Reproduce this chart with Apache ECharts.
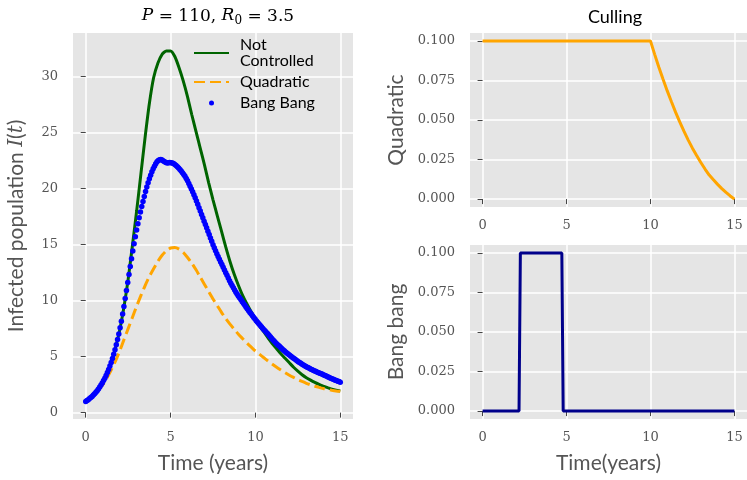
<!DOCTYPE html>
<html><head><meta charset="utf-8">
<script src="https://cdn.jsdelivr.net/npm/echarts@6/dist/echarts.min.js"></script>
<style>html,body{margin:0;padding:0;background:#fff}#c{width:747px;height:480px}</style>
</head><body><div id="c"></div>
<script>
// ---- data ----
const lineT = [0,0.25,0.5,0.75,1,1.25,1.5,1.75,2,2.25,2.5,2.75,3,3.25,3.5,3.75,4,4.25,4.5,4.75,
  5,5.25,5.5,5.75,6,6.25,6.5,6.75,7,7.25,7.5,7.75,8,8.25,8.5,8.75,9,9.25,9.5,9.75,
  10,10.25,10.5,10.75,11,11.25,11.5,11.75,12,12.25,12.5,12.75,13,13.25,13.5,13.75,14,14.25,14.5,14.75,15];
const notControlled = [1.0,1.28,1.65,2.12,2.72,3.49,4.48,5.75,7.35,9.4,
  11.9,14.9,18.0,21.3,24.6,27.6,29.9,31.2,32.0,32.3,
  32.3,31.8,30.8,29.6,28.2,26.6,25.1,23.6,22.1,20.5,
  19.0,17.6,16.2,14.8,13.5,12.35,11.35,10.45,9.7,9.0,
  8.35,7.75,7.2,6.65,6.15,5.7,5.25,4.85,4.45,4.05,
  3.7,3.38,3.12,2.9,2.7,2.52,2.37,2.23,2.1,2.0,
  1.93];
const quadratic = [1.0,1.25,1.58,2.0,2.5,3.1,3.8,4.6,5.5,6.5,
  7.5,8.5,9.5,10.45,11.35,12.15,12.85,13.5,14.05,14.45,
  14.7,14.75,14.6,14.3,13.85,13.35,12.75,12.1,11.45,10.8,
  10.15,9.55,8.95,8.4,7.9,7.45,7.0,6.6,6.2,5.85,
  5.5,5.2,4.9,4.6,4.32,4.05,3.8,3.56,3.34,3.14,
  2.95,2.78,2.62,2.48,2.36,2.25,2.15,2.07,2.0,1.94,
  1.9];
const bangStep = 0.075;   // sampling step of the Bang Bang points (years)
const bangBang = [1.00,1.08,1.16,1.25,1.35,1.45,1.57,1.69,1.82,1.96,
  2.12,2.28,2.46,2.65,2.86,3.08,3.32,3.58,3.86,4.16,
  4.48,4.83,5.21,5.61,6.05,6.52,7.03,7.58,8.17,8.80,
  9.48,10.19,10.9,11.61,12.33,13.04,13.75,14.43,15.08,15.70,
  16.3,16.86,17.40,17.91,18.4,18.85,19.3,19.74,20.15,20.53,
  20.88,21.2,21.5,21.77,22.0,22.22,22.4,22.52,22.58,22.6,
  22.55,22.48,22.4,22.33,22.3,22.32,22.33,22.32,22.3,22.24,
  22.16,22.07,21.95,21.84,21.71,21.57,21.43,21.27,21.10,20.91,
  20.70,20.46,20.22,19.98,19.73,19.46,19.19,18.90,18.60,18.30,
  18.00,17.70,17.40,17.10,16.80,16.50,16.20,15.90,15.60,15.30,
  15.00,14.72,14.45,14.18,13.94,13.70,13.46,13.22,12.98,12.74,
  12.50,12.26,12.02,11.78,11.56,11.35,11.14,10.94,10.75,10.57,
  10.40,10.23,10.07,9.91,9.74,9.58,9.41,9.25,9.10,8.95,
  8.80,8.65,8.50,8.35,8.21,8.08,7.94,7.81,7.67,7.54,
  7.40,7.28,7.16,7.04,6.91,6.78,6.64,6.51,6.39,6.27,
  6.15,6.04,5.94,5.83,5.73,5.62,5.52,5.42,5.33,5.24,
  5.15,5.06,4.97,4.88,4.80,4.71,4.63,4.55,4.48,4.41,
  4.33,4.25,4.19,4.12,4.06,4.00,3.94,3.88,3.83,3.77,
  3.72,3.67,3.61,3.56,3.52,3.47,3.42,3.36,3.31,3.26,
  3.20,3.15,3.10,3.05,3.00,2.95,2.90,2.86,2.81,2.77,
  2.72];
const quadCtrlT = [0,10,10.25,10.5,10.75,11,11.25,11.5,11.75,12,12.25,12.5,12.75,13,13.25,13.5,13.75,14,14.25,14.5,14.75,15];
const quadCtrlU = [0.1,0.1,0.0915,0.0834,0.0757,0.0684,0.0615,0.0548,0.0486,0.0428,0.0373,0.0322,0.0275,0.0231,0.019,0.0152,0.0122,0.0093,0.0066,0.0042,0.002,0];
const bangCtrlT = [0,2.17,2.25,4.72,4.8,15];
const bangCtrlU = [0,0,0.1,0.1,0,0];
const xTicks = [0,5,10,15];
const yTicksLeft = [0,5,10,15,20,25,30];
const yTicksRight = [0,0.025,0.05,0.075,0.1];

// ---- chart ----
const SERIF = 'DejaVu Serif';
const SANS = 'Lato';
const BG = '#E5E5E5';
const zip = (xs, ys) => ys.map((y, i) => [xs[i], y]);
const bangT = bangBang.map((_, i) => +(i * bangStep).toFixed(3));

function xAx(gi, name) {
  return {
    type: 'value', gridIndex: gi, min: -0.75, max: 15.75, offset: 2,
    axisLine: {show: false},
    axisTick: {show: true, length: 5, lineStyle: {color: '#444', width: 1}, customValues: xTicks},
    axisLabel: {customValues: xTicks, margin: 10, fontFamily: SERIF, fontSize: 13, color: '#555',
      formatter: v => String(v)},
    splitLine: {show: true, lineStyle: {color: '#fff', width: 1.5}},
    name: name || '', nameLocation: 'middle', nameGap: 32,
    nameTextStyle: {fontFamily: SANS, fontSize: 21, color: '#555'}
  };
}
function yAx(gi, min, max, ticks, fmt, name, gap, rich) {
  return {
    type: 'value', gridIndex: gi, min, max, offset: 2,
    axisLine: {show: false},
    axisTick: {show: true, length: 5, lineStyle: {color: '#444', width: 1}, customValues: ticks},
    axisLabel: {customValues: ticks, margin: 13, fontFamily: SERIF, fontSize: 13, color: '#555', formatter: fmt},
    splitLine: {show: true, lineStyle: {color: '#fff', width: 1.5}},
    name, nameLocation: 'middle', nameGap: gap, nameRotate: 90,
    nameTextStyle: Object.assign({fontFamily: SANS, fontSize: 21, color: '#555'}, rich ? {rich} : {})
  };
}

const chart = echarts.init(document.getElementById('c'), null, {renderer: 'canvas'});
chart.setOption({
  animation: false,
  backgroundColor: '#fff',
  title: [
    {text: '{i|P} = 110, {i|R}{s|0} = 3.5', left: 213, top: 2, textAlign: 'center',
     textStyle: {fontFamily: SERIF, fontSize: 17, fontWeight: 'normal', color: '#000',
       rich: {
         i: {fontFamily: SERIF, fontSize: 17, fontStyle: 'italic', color: '#000', verticalAlign: 'top', lineHeight: 20},
         s: {fontFamily: SERIF, fontSize: 12, color: '#000', verticalAlign: 'bottom', lineHeight: 12, padding: [9, 0, 0, 0]}
       }}},
    {text: 'Culling', left: 610, top: 3, textAlign: 'center',
     textStyle: {fontFamily: SANS, fontSize: 18, fontWeight: 'normal', color: '#000'}}
  ],
  legend: {
    data: [{name: 'Not Controlled'}, {name: 'Quadratic'},
           {name: 'Bang Bang', icon: 'circle', itemStyle: {opacity: 1}}],
    orient: 'vertical', left: 193, top: 37, itemWidth: 35, itemHeight: 5, itemGap: 5,
    selectedMode: false, padding: 0,
    itemStyle: {opacity: 0},
    formatter: n => n === 'Not Controlled' ? 'Not\nControlled' : n,
    textStyle: {fontFamily: SANS, fontSize: 16, lineHeight: 16, color: '#000', padding: [0, 0, 0, 6]}
  },
  grid: [
    {left: 73, top: 33, width: 280, height: 386, show: true, backgroundColor: BG, borderWidth: 0},
    {left: 470, top: 33, width: 281, height: 174, show: true, backgroundColor: BG, borderWidth: 0},
    {left: 470, top: 245, width: 281, height: 174, show: true, backgroundColor: BG, borderWidth: 0}
  ],
  xAxis: [xAx(0, 'Time (years)'), xAx(1, ''), xAx(2, 'Time(years)')],
  yAxis: [
    yAx(0, -0.57, 33.9, yTicksLeft, v => String(v), '{a|Infected population }{m|I}{a|(}{m|t}{a|)}', 44,
      {a: {fontFamily: SANS, fontSize: 21, color: '#555'}, m: {fontFamily: SERIF, fontSize: 20, fontStyle: 'italic', color: '#555'}}),
    yAx(1, -0.005, 0.105, yTicksRight, v => v.toFixed(3), 'Quadratic', 61),
    yAx(2, -0.005, 0.105, yTicksRight, v => v.toFixed(3), 'Bang bang', 61)
  ],
  series: [
    {name: 'Not Controlled', type: 'line', xAxisIndex: 0, yAxisIndex: 0, data: zip(lineT, notControlled),
     symbol: 'none', smooth: 0.2, color: '#006400', lineStyle: {color: '#006400', width: 3}, z: 2},
    {name: 'Quadratic', type: 'line', xAxisIndex: 0, yAxisIndex: 0, data: zip(lineT, quadratic),
     symbol: 'none', smooth: 0.2, color: '#FFA500', lineStyle: {color: '#FFA500', width: 3, type: [11, 5]}, z: 3},
    {name: 'Bang Bang', type: 'scatter', xAxisIndex: 0, yAxisIndex: 0, data: zip(bangT, bangBang),
     symbol: 'circle', symbolSize: 5.5, color: '#0000FF', itemStyle: {color: '#0000FF', opacity: 1}, z: 4},
    {name: 'Quadratic control', type: 'line', xAxisIndex: 1, yAxisIndex: 1, data: zip(quadCtrlT, quadCtrlU),
     symbol: 'none', color: '#FFA500', lineStyle: {color: '#FFA500', width: 3}},
    {name: 'Bang bang control', type: 'line', xAxisIndex: 2, yAxisIndex: 2, data: zip(bangCtrlT, bangCtrlU),
     symbol: 'none', color: '#00008B', lineStyle: {color: '#00008B', width: 3}}
  ]
});
</script></body></html>
